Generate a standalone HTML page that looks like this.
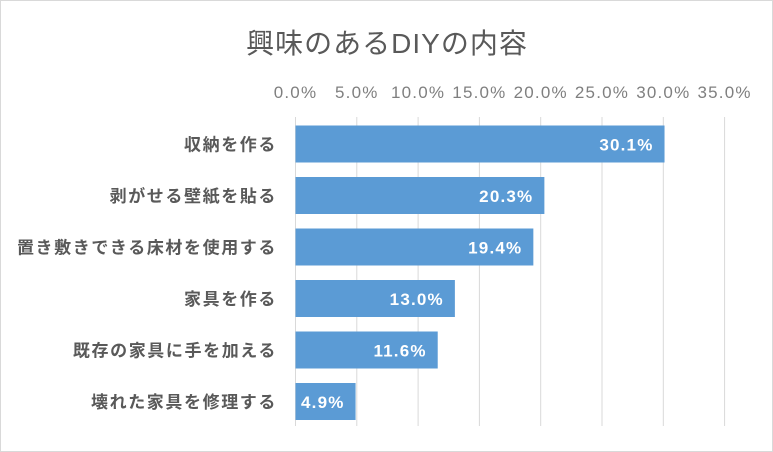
<!DOCTYPE html>
<html><head><meta charset="utf-8"><style>
html,body{margin:0;padding:0;background:#fff}
svg{display:block;font-family:"Liberation Sans","Noto Sans CJK JP",sans-serif}
</style></head><body>
<svg width="773" height="452">
<rect x="0.5" y="0.5" width="772" height="451" fill="#fff" stroke="#d9d9d9"/>
<text x="387" y="53" text-anchor="middle" font-size="28" letter-spacing="1" fill="#595959">興味のあるDIYの内容</text>
<g id="grid"></g><g id="ticks"></g><g id="bars"></g>
</svg>
<script>
const categories=["収納を作る","剥がせる壁紙を貼る","置き敷きできる床材を使用する","家具を作る","既存の家具に手を加える","壊れた家具を修理する"];
const values=[30.1,20.3,19.4,13.0,11.6,4.9];
const tickValues=[0,5,10,15,20,25,30,35];
const ns="http://www.w3.org/2000/svg";
const x0=295.5,pxPer=61.3/5;
const xs=v=>x0+v*pxPer;
const rowTop=118,rowH=51.5;
const ys=i=>rowTop+i*rowH;
function mk(t,a,p){const e=document.createElementNS(ns,t);for(const k in a)e.setAttribute(k,a[k]);p.appendChild(e);return e;}
const grid=document.getElementById('grid'),ticks=document.getElementById('ticks'),bars=document.getElementById('bars');
tickValues.forEach(v=>{
 const l=mk('line',{x1:xs(v),x2:xs(v),y1:117,y2:426,stroke:'#d9d9d9','stroke-width':1},grid);
 
 
 const t=mk('text',{x:xs(v),y:98,'text-anchor':'middle','font-size':17,'letter-spacing':1.2,fill:'#7f7f7f'},ticks);
 t.textContent=v.toFixed(1)+'%';
 
 
});
categories.forEach((c,i)=>{
 const y=ys(i)+7.5;
 const r=mk('rect',{x:xs(0),y:y,width:xs(values[i])-xs(0),height:37,fill:'#5b9bd5'},bars);
 
 
 const lab=mk('text',{x:xs(values[i])-11,y:y+25,'text-anchor':'end','font-size':17,'letter-spacing':1.2,'font-weight':'bold',fill:'#fff'},bars);
 lab.textContent=values[i].toFixed(1)+'%';
 
 
 const cl=mk('text',{x:277,y:y+25,'text-anchor':'end','font-size':17,'letter-spacing':1.6,'font-weight':'bold',fill:'#595959'},bars);
 cl.textContent=c;
 
 
});
</script>
</body></html>
